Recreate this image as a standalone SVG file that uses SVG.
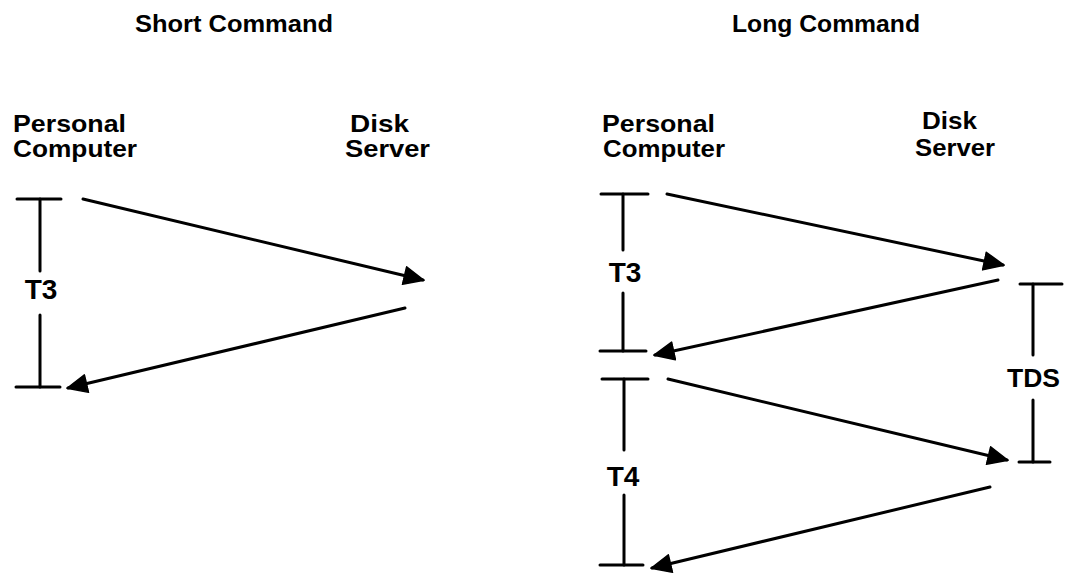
<svg xmlns="http://www.w3.org/2000/svg" width="1065" height="575" viewBox="0 0 1065 575">
<style>
text{font-family:"Liberation Sans",Arial,sans-serif;font-weight:bold;fill:#000}
.lbl{font-size:24px}
.t{font-size:28px;text-anchor:middle}
.ln{stroke:#000;stroke-width:3;stroke-linecap:round;fill:none}
.ar{stroke:#000;stroke-width:3;stroke-linecap:round;fill:none;marker-end:url(#ah)}
</style>
<defs>
<marker id="ah" markerUnits="userSpaceOnUse" markerWidth="24" markerHeight="22" refX="20" refY="10" orient="auto">
<path d="M1,1 L21,10 L1,19 z" fill="#000" stroke="#000" stroke-width="1.5" stroke-linejoin="round"/>
</marker>
</defs>
<rect width="1065" height="575" fill="#fff"/>
<g id="titles">
<text class="lbl" x="135" y="32" textLength="198" lengthAdjust="spacingAndGlyphs">Short Command</text>
<text class="lbl" x="732" y="32" textLength="188" lengthAdjust="spacingAndGlyphs">Long Command</text>
</g>
<g id="short-pc">
<text class="lbl" x="13" y="132" textLength="113" lengthAdjust="spacingAndGlyphs">Personal</text>
<text class="lbl" x="13" y="157" textLength="124" lengthAdjust="spacingAndGlyphs">Computer</text>
</g>
<g id="short-ds">
<text class="lbl" x="350" y="132" textLength="59" lengthAdjust="spacingAndGlyphs">Disk</text>
<text class="lbl" x="345" y="157" textLength="85" lengthAdjust="spacingAndGlyphs">Server</text>
</g>
<g id="long-pc">
<text class="lbl" x="602" y="132" textLength="113" lengthAdjust="spacingAndGlyphs">Personal</text>
<text class="lbl" x="603" y="157" textLength="122" lengthAdjust="spacingAndGlyphs">Computer</text>
</g>
<g id="long-ds">
<text class="lbl" x="922" y="129" textLength="55" lengthAdjust="spacingAndGlyphs">Disk</text>
<text class="lbl" x="915" y="156" textLength="80" lengthAdjust="spacingAndGlyphs">Server</text>
</g>
<g id="short-t3">
<line class="ln" x1="17" y1="199" x2="61" y2="199"/>
<line class="ln" x1="40" y1="199" x2="40" y2="271"/>
<line class="ln" x1="40" y1="315" x2="40" y2="387"/>
<line class="ln" x1="16" y1="387" x2="60" y2="387"/>
<text class="t" x="41" y="299">T3</text>
</g>
<g id="long-t3">
<line class="ln" x1="601" y1="194" x2="648" y2="194"/>
<line class="ln" x1="623" y1="194" x2="623" y2="250"/>
<line class="ln" x1="623" y1="293" x2="623" y2="351"/>
<line class="ln" x1="600" y1="351" x2="646" y2="351"/>
<text class="t" x="625" y="282">T3</text>
</g>
<g id="long-t4">
<line class="ln" x1="602" y1="379" x2="648" y2="379"/>
<line class="ln" x1="624" y1="379" x2="624" y2="450"/>
<line class="ln" x1="624" y1="495" x2="624" y2="565"/>
<line class="ln" x1="600" y1="565" x2="643" y2="565"/>
<text class="t" x="623" y="486">T4</text>
</g>
<g id="long-tds">
<line class="ln" x1="1020" y1="284" x2="1062" y2="284"/>
<line class="ln" x1="1033" y1="284" x2="1033" y2="355"/>
<line class="ln" x1="1033" y1="400" x2="1033" y2="462"/>
<line class="ln" x1="1019" y1="462" x2="1050" y2="462"/>
<text x="1007" y="387" font-size="25" textLength="53" lengthAdjust="spacingAndGlyphs">TDS</text>
</g>
<g id="connectors">
<line class="ar" x1="83" y1="199" x2="423" y2="280"/>
<line class="ar" x1="405" y1="308" x2="68" y2="388"/>
<line class="ar" x1="667" y1="194" x2="1003" y2="265"/>
<line class="ar" x1="998" y1="280" x2="655" y2="355"/>
<line class="ar" x1="668" y1="379" x2="1007" y2="460"/>
<line class="ar" x1="990" y1="487" x2="652" y2="568"/>
</g>
</svg>
